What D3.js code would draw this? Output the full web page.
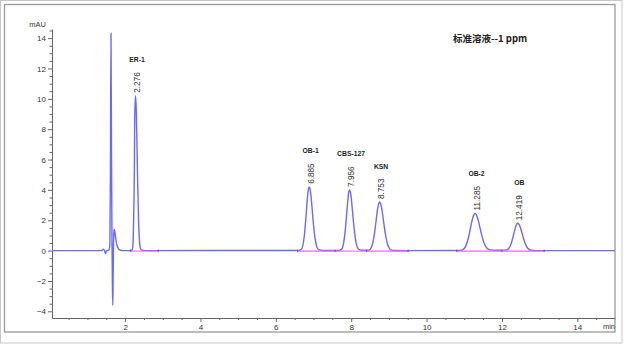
<!DOCTYPE html>
<html>
<head>
<meta charset="utf-8">
<script src="https://cdn.jsdelivr.net/npm/d3@7"></script>
<style>
  body { margin: 0; background: #fff; }
  svg { display: block; font-family: "Liberation Sans", Arial, sans-serif; }
</style>
</head>
<body>
<svg id="chart" width="632" height="345"></svg>
<script>
// chromatogram trace: [time (min), signal (mAU)]
const trace = [
  [0.06, 0], [1.38, 0], [1.42, 0.1], [1.45, 0.02], [1.48, -0.2], [1.51, 0], [1.56, 0.02],
  // solvent front
  [1.595, 0.3], [1.61, 5], [1.625, 14.3], [1.64, 6], [1.652, 0.5], [1.662, -2], [1.672, -3.6],
  [1.682, -2], [1.692, 0.3], [1.705, 1.3], [1.715, 1.4], [1.735, 1.1], [1.76, 0.65], [1.79, 0.3],
  [1.83, 0.1], [1.88, 0.02], [1.95, 0],
  // ER-1
  [2.10, 0], [2.176, 0.02], [2.196, 0.11], [2.216, 0.84], [2.236, 3.37], [2.246, 5.47], [2.256, 8.88],
  [2.276, 10.2], [2.296, 9.24], [2.316, 6.87], [2.336, 4.19], [2.356, 2.1], [2.376, 0.86],
  [2.406, 0.15], [2.44, 0.03], [2.55, 0],
  // OB-1
  [6.60, 0.01], [6.685, 0.1], [6.735, 0.6], [6.76, 1.08], [6.785, 1.77], [6.81, 2.58], [6.835, 3.39],
  [6.86, 3.98], [6.885, 4.2], [6.91, 4.02], [6.935, 3.54], [6.96, 2.85], [6.985, 2.1], [7.035, 0.89],
  [7.085, 0.26], [7.135, 0.06], [7.25, 0.01],
  // CBS-127
  [7.65, 0.01], [7.75, 0.1], [7.80, 0.55], [7.83, 1.05], [7.856, 1.7], [7.88, 2.45], [7.906, 3.2],
  [7.93, 3.8], [7.956, 4.0], [7.98, 3.83], [8.006, 3.37], [8.03, 2.7], [8.056, 2.0], [8.106, 0.85],
  [8.156, 0.25], [8.21, 0.06], [8.30, 0.02], [8.40, 0.02],
  // KSN
  [8.45, 0.02], [8.503, 0.09], [8.553, 0.33], [8.603, 0.9], [8.653, 1.82], [8.678, 2.33], [8.703, 2.78],
  [8.728, 3.09], [8.753, 3.2], [8.778, 3.11], [8.803, 2.86], [8.828, 2.48], [8.853, 2.03], [8.903, 1.15],
  [8.953, 0.52], [9.003, 0.19], [9.053, 0.05], [9.15, 0.01], [9.5, 0],
  // OB-2
  [10.85, 0.01], [10.925, 0.03], [10.985, 0.11], [11.045, 0.33], [11.105, 0.8], [11.165, 1.49],
  [11.195, 1.85], [11.225, 2.16], [11.255, 2.37], [11.285, 2.45], [11.315, 2.39], [11.345, 2.22],
  [11.375, 1.96], [11.405, 1.65], [11.465, 1.0], [11.525, 0.5], [11.585, 0.21], [11.645, 0.08],
  [11.75, 0.03], [11.90, 0.02], [12.0, 0.03],
  // OB
  [12.12, 0.04], [12.179, 0.14], [12.239, 0.42], [12.299, 0.95], [12.329, 1.25], [12.359, 1.53],
  [12.389, 1.73], [12.419, 1.8], [12.449, 1.74], [12.479, 1.59], [12.509, 1.36], [12.539, 1.09],
  [12.599, 0.58], [12.659, 0.24], [12.719, 0.08], [12.779, 0.02], [12.9, 0], [15, 0]
];

const peakNames = ["ER-1", "OB-1", "CBS-127", "KSN", "OB-2", "OB"];
const peakTimes = [2.276, 6.885, 7.956, 8.753, 11.285, 12.419];
const peakHeights = [10.2, 4.2, 4.0, 3.2, 2.45, 1.8];

// integration baselines (start, end in min)
const baseStarts = [2.15, 6.58, 7.57, 8.41, 10.80, 12.0];
const baseEnds = [2.88, 7.57, 8.41, 9.51, 12.0, 13.12];

const xTicks = [2, 4, 6, 8, 10, 12, 14];
const yTicks = [-4, -2, 0, 2, 4, 6, 8, 10, 12, 14];

const svg = d3.select("#chart");

// frames
svg.append("rect").attr("x", 0.5).attr("y", 0.5).attr("width", 621.5).attr("height", 342.5)
  .attr("fill", "none").attr("stroke", "#c8c8c8");
svg.append("rect").attr("x", 4.5).attr("y", 4.5).attr("width", 610.5).attr("height", 327.5)
  .attr("fill", "none").attr("stroke", "#9a9a9a").attr("stroke-width", 1.3);

const x = d3.scaleLinear().domain([0.06, 15.0]).range([52, 615]);
const y = d3.scaleLinear().domain([-4.44, 14.6]).range([318, 29]);

// minor ticks every 0.5
const xMinor = d3.range(0.5, 15, 0.5).filter(t => t % 2 !== 0);
const yMinor = d3.range(-4, 14.51, 0.5).filter(v => v % 2 !== 0);

svg.append("g").attr("transform", "translate(0,318)")
  .call(d3.axisBottom(x).tickValues(xMinor).tickSize(2).tickFormat("").tickSizeOuter(0))
  .call(g => g.select(".domain").remove());
svg.append("g").attr("transform", "translate(52,0)")
  .call(d3.axisLeft(y).tickValues(yMinor).tickSize(2.5).tickFormat("").tickSizeOuter(0))
  .call(g => g.select(".domain").remove());

const xAxis = svg.append("g").attr("transform", "translate(0,318)")
  .call(d3.axisBottom(x).tickValues(xTicks).tickSize(4).tickPadding(2).tickSizeOuter(0));
const yAxis = svg.append("g").attr("transform", "translate(52,0)")
  .call(d3.axisLeft(y).tickValues(yTicks).tickSize(4).tickPadding(2).tickSizeOuter(0));

svg.selectAll(".tick line").attr("stroke", "#666");
[xAxis, yAxis].forEach(a => {
  a.select(".domain").attr("stroke", "#666");
  a.selectAll("text").attr("font-size", 8).attr("fill", "#333")
    .attr("font-family", "'Liberation Sans', Arial, sans-serif");
});

svg.append("text").attr("x", 46).attr("y", 27).attr("text-anchor", "end")
  .attr("font-size", 7.5).attr("fill", "#333").text("mAU");
svg.append("text").attr("x", 615).attr("y", 329).attr("text-anchor", "end")
  .attr("font-size", 7.5).attr("fill", "#333").text("min");

// trace
const line = d3.line().x(d => x(d[0])).y(d => y(d[1])).curve(d3.curveMonotoneX);
svg.append("path").datum(trace).attr("d", line)
  .attr("fill", "none").attr("stroke", "#6a6af2").attr("stroke-width", 1.4);

// integration baselines and marks
const y0 = y(0);
svg.append("g").selectAll("line").data(baseStarts).join("line")
  .attr("x1", d => x(d)).attr("x2", (d, i) => x(baseEnds[i]))
  .attr("y1", y0 + 0.5).attr("y2", y0 + 0.5)
  .attr("stroke", "#ff5cff").attr("stroke-width", 1.1);

const marks = Array.from(new Set(baseStarts.concat(baseEnds)));
svg.append("g").selectAll("line").data(marks).join("line")
  .attr("x1", d => x(d)).attr("x2", d => x(d))
  .attr("y1", y0 - 1).attr("y2", y0 + 1.5)
  .attr("stroke", "#666").attr("stroke-width", 1);

// peak labels
peakTimes.forEach((t, i) => {
  const px = x(t), py = y(peakHeights[i]) - 3;
  const rt = svg.append("text")
    .attr("transform", `translate(${px + 4.5},${py}) rotate(-90)`)
    .attr("font-size", 8.2).attr("fill", "#333")
    .text(t.toFixed(3));
  const len = rt.node().getComputedTextLength();
  svg.append("text").attr("x", px + 1.5).attr("y", py - len - 10)
    .attr("text-anchor", "middle").attr("font-size", 6.8).attr("font-weight", "bold")
    .attr("fill", "#222").text(peakNames[i]);
});

// title
svg.append("text").attr("x", 453).attr("y", 42)
  .attr("font-family", "'Noto Sans CJK SC', sans-serif")
  .attr("font-size", 9.5).attr("font-weight", "bold").attr("fill", "#222")
  .text("标准溶液--1 ppm");
</script>
</body>
</html>
